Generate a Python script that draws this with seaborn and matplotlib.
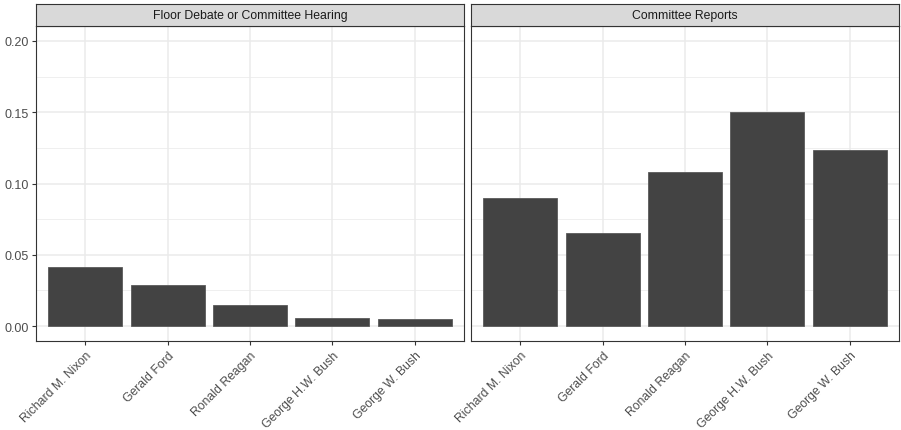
import matplotlib
matplotlib.use('Agg')
import matplotlib.pyplot as plt
import seaborn as sns
import pandas as pd
import numpy as np

# data
presidents = ['Richard M. Nixon', 'Gerald Ford', 'Ronald Reagan', 'George H.W. Bush', 'George W. Bush']
floor_debate = [0.0413, 0.0289, 0.0145, 0.0054, 0.0049]
committee_reports = [0.0895, 0.0655, 0.108, 0.150, 0.1238]
panel_titles = ['Floor Debate or Committee Hearing', 'Committee Reports']

df = pd.concat([
    pd.DataFrame({'president': presidents, 'share': floor_debate, 'panel': panel_titles[0]}),
    pd.DataFrame({'president': presidents, 'share': committee_reports, 'panel': panel_titles[1]}),
])

sns.set_style('white')
plt.rcParams['font.family'] = ['Liberation Sans', 'DejaVu Sans']

fig = plt.figure(figsize=(9.01, 4.31), dpi=100)
W, H = 901, 431
panels = [(36, 464), (471, 899)]
top_px, bot_px = 27, 342
strip_top = 5

for i, (title, (x0, x1)) in enumerate(zip(panel_titles, panels)):
    ax = fig.add_axes([x0 / W, 1 - bot_px / H, (x1 - x0) / W, (bot_px - top_px) / H])
    sub = df[df['panel'] == title]
    sns.barplot(data=sub, x='president', y='share', order=presidents, ax=ax,
                color='#434343', saturation=1, width=0.9,
                edgecolor='#5a5a5a', linewidth=0.6, zorder=3)
    ax.set_xlim(-0.6, 4.6)
    ax.set_ylim(-0.0105, 0.2105)
    ax.set_yticks(np.arange(0, 0.201, 0.05))
    ax.set_yticks(np.arange(0.025, 0.2, 0.05), minor=True)
    ax.grid(True, which='major', color='#EBEBEB', linewidth=1.1, zorder=0)
    ax.grid(True, which='minor', axis='y', color='#EBEBEB', linewidth=0.55, zorder=0)
    ax.set_axisbelow(True)
    for s in ax.spines.values():
        s.set_visible(True)
        s.set_color('#333333')
        s.set_linewidth(0.8)
    ax.set_xlabel('')
    ax.set_ylabel('')
    ax.set_xticks(range(len(presidents)))
    ax.set_xticklabels(presidents, rotation=45, ha='right', rotation_mode='anchor',
                       fontsize=8.8, color='#4D4D4D')
    ax.tick_params(axis='x', which='major', length=3, color='#333333', width=0.8, pad=3, bottom=True)
    ax.tick_params(axis='y', which='minor', length=0)
    if i == 0:
        ax.set_yticklabels(['0.00', '0.05', '0.10', '0.15', '0.20'], fontsize=9, color='#4D4D4D')
        ax.tick_params(axis='y', which='major', length=3, color='#333333', width=0.8, pad=2, left=True)
    else:
        ax.set_yticklabels([])
        ax.tick_params(axis='y', which='major', length=0)

    # facet strip
    sax = fig.add_axes([x0 / W, 1 - top_px / H, (x1 - x0) / W, (top_px - strip_top) / H])
    sax.set_facecolor('#D9D9D9')
    sax.set_xticks([])
    sax.set_yticks([])
    for s in sax.spines.values():
        s.set_visible(True)
        s.set_color('#333333')
        s.set_linewidth(0.8)
    sax.text(0.5, 0.5, title, ha='center', va='center', fontsize=8.8, color='#1A1A1A',
             transform=sax.transAxes)

fig.savefig('out.png', dpi=100, facecolor='white')
